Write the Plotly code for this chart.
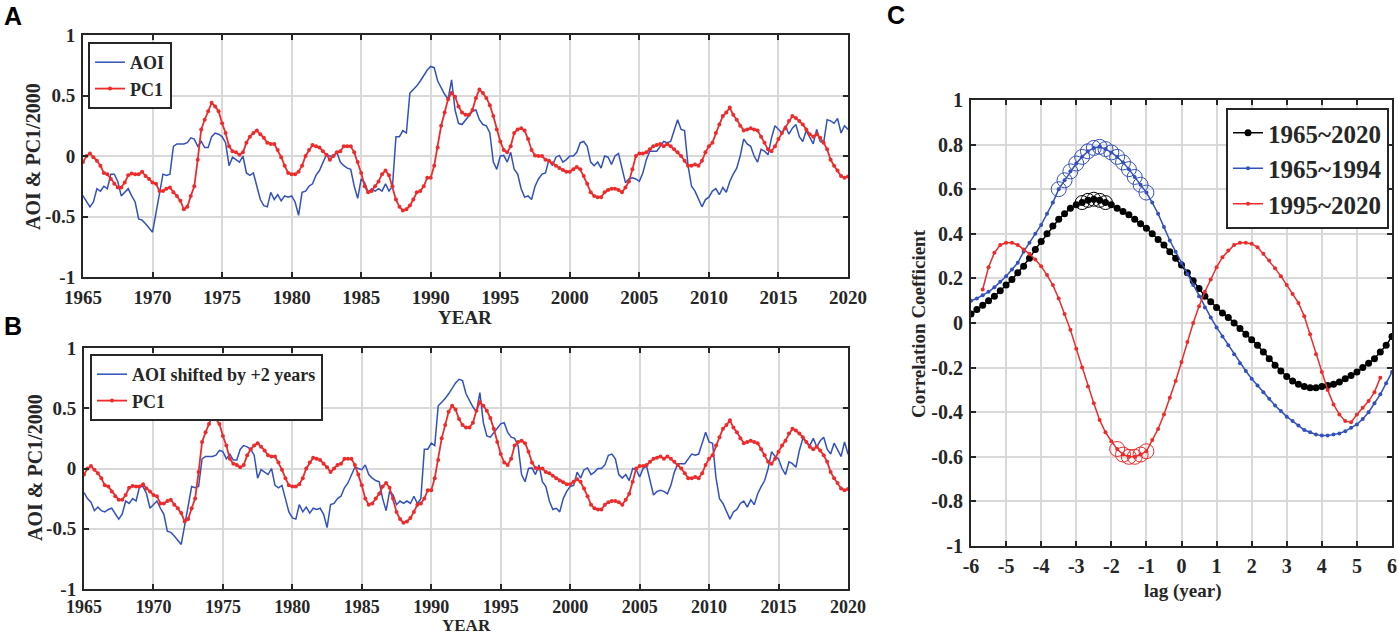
import numpy as np
import plotly.graph_objects as go

W, H = 1398, 634

# ---------------- panels A / B : quarterly series ----------------
AOI_START = 1963.0   # AOI read from 1963 so the +2 yr shift fills panel B
aoi = [
    -0.20, -0.25, -0.28, -0.35,  # 1963
    -0.32, -0.35, -0.36, -0.34,  # 1964
    -0.33, -0.38, -0.42, -0.38,  # 1965
    -0.27, -0.29, -0.25, -0.27,
    -0.15, -0.15, -0.21, -0.33,
    -0.30, -0.27, -0.33, -0.38,
    -0.52, -0.53, -0.56, -0.60,
    -0.63, -0.47, -0.30, -0.15,  # 1970
    -0.16, -0.15, 0.08, 0.10,
    0.10, 0.10, 0.11, 0.15,
    0.14, 0.08, 0.12, 0.07,
    0.07, 0.16, 0.19, 0.18,
    0.16, 0.11, -0.08, -0.01,  # 1975
    -0.03, -0.05, 0.00, -0.14,
    -0.16, -0.14, -0.25, -0.36,
    -0.41, -0.42, -0.30, -0.36,
    -0.32, -0.37, -0.33, -0.34,
    -0.33, -0.38, -0.49, -0.30,  # 1980
    -0.29, -0.25, -0.23, -0.16,
    -0.12, -0.05, 0.01, 0.00,
    -0.01, 0.03, -0.05, -0.08,
    -0.10, -0.11, -0.25, -0.35,
    -0.19, -0.22, -0.30, -0.27,  # 1985
    -0.29, -0.27, -0.29, -0.23,
    -0.29, -0.25, 0.16, 0.16,
    0.21, 0.19, 0.52, 0.55,
    0.58, 0.62, 0.67, 0.71,
    0.74, 0.73, 0.62, 0.56,  # 1990
    0.51, 0.47, 0.63, 0.38,
    0.27, 0.26, 0.30, 0.34,
    0.37, 0.38, 0.30, 0.26,
    0.25, 0.19, -0.05, -0.11,
    0.00, 0.005, -0.05, 0.03,  # 1995
    -0.11, -0.15, -0.27, -0.34,
    -0.33, -0.36, -0.25, -0.19,
    -0.15, -0.14, -0.03, -0.08,
    -0.01, 0.005, -0.05, -0.03,
    0.00, 0.00, 0.03, 0.11,  # 2000
    0.12, 0.08, -0.05, -0.08,
    -0.05, -0.10, 0.00, -0.01,
    -0.07, 0.00, 0.02, -0.10,
    -0.22, -0.19, -0.18, -0.19,
    -0.21, -0.14, -0.03, 0.04,  # 2005
    0.04, 0.04, 0.08, 0.12,
    0.11, 0.12, 0.21, 0.30,
    0.22, 0.21, -0.08, -0.25,
    -0.29, -0.36, -0.42, -0.36,
    -0.34, -0.29, -0.27, -0.32,  # 2010
    -0.26, -0.30, -0.21, -0.15,
    -0.10, 0.00, 0.14, 0.10,
    0.08, 0.00, -0.05, 0.055,
    0.04, 0.01, 0.15, 0.25,
    0.22, 0.19, 0.25, 0.18,  # 2015
    0.23, 0.26, 0.16, 0.12,
    0.21, 0.16, 0.10, 0.22,
    0.12, 0.11, 0.30, 0.29,
    0.27, 0.31, 0.19, 0.25,
    0.22,  # 2020
]

PC1_START = 1965.0
pc1 = [
    -0.05, 0.00, 0.02, -0.01,  # 1965
    -0.04, -0.08, -0.14, -0.15,
    -0.19, -0.23, -0.26, -0.26,
    -0.22, -0.16, -0.145, -0.15,
    -0.15, -0.13, -0.165, -0.19,
    -0.22, -0.23, -0.29, -0.29,  # 1970
    -0.27, -0.26, -0.30, -0.33,
    -0.37, -0.44, -0.42, -0.33,
    -0.25, -0.03, 0.22, 0.30,
    0.37, 0.44, 0.41, 0.37,
    0.27, 0.19, 0.08, 0.04,  # 1975
    0.03, 0.01, 0.03, 0.11,
    0.16, 0.19, 0.21, 0.18,
    0.15, 0.11, 0.10, 0.10,
    0.05, -0.01, -0.08, -0.14,
    -0.15, -0.15, -0.13, -0.08,  # 1980
    0.00, 0.05, 0.09, 0.08,
    0.07, 0.04, 0.01, -0.03,
    0.00, 0.03, 0.04, 0.08,
    0.08, 0.08, 0.03, -0.05,
    -0.14, -0.25, -0.30, -0.29,  # 1985
    -0.25, -0.21, -0.15, -0.12,
    -0.16, -0.25, -0.36, -0.42,
    -0.45, -0.44, -0.41, -0.36,
    -0.30, -0.29, -0.25, -0.18,
    -0.18, -0.08, 0.07, 0.25,  # 1990
    0.36, 0.47, 0.52, 0.49,
    0.41, 0.36, 0.34, 0.34,
    0.38, 0.48, 0.55, 0.52,
    0.48, 0.42, 0.33, 0.22,
    0.12, 0.05, 0.03, 0.08,  # 1995
    0.19, 0.22, 0.23, 0.21,
    0.14, 0.05, 0.005, 0.00,
    0.00, -0.03, -0.04, -0.06,
    -0.08, -0.10, -0.115, -0.13,
    -0.13, -0.11, -0.09, -0.11,  # 2000
    -0.165, -0.23, -0.30, -0.33,
    -0.34, -0.34, -0.30, -0.28,
    -0.27, -0.27, -0.28, -0.30,
    -0.26, -0.21, -0.11, 0.00,
    0.02, 0.02, 0.03, 0.055,  # 2005
    0.08, 0.09, 0.10, 0.08,
    0.10, 0.08, 0.055, 0.03,
    0.00, -0.04, -0.08, -0.08,
    -0.07, -0.08, -0.04, 0.03,
    0.08, 0.11, 0.19, 0.26,  # 2010
    0.33, 0.36, 0.40, 0.34,
    0.30, 0.25, 0.21, 0.22,
    0.23, 0.22, 0.21, 0.16,
    0.11, 0.055, 0.04, 0.08,
    0.14, 0.19, 0.23, 0.29,  # 2015
    0.33, 0.315, 0.29, 0.26,
    0.22, 0.18, 0.16, 0.18,
    0.15, 0.11, 0.055, -0.03,
    -0.08, -0.12, -0.165, -0.18,
    -0.17,  # 2020
]
AOI_SHIFT = 2

year_ticks = [1965, 1970, 1975, 1980, 1985, 1990, 1995, 2000, 2005, 2010, 2015, 2020]
ab_yticks = [1, 0.5, 0, -0.5, -1]
ab_ytext = ["1", "0.5", "0", "-0.5", "-1"]

# ---------------- panel C : lag correlation, 2-month steps ----------------
LAG_STEP = 1 / 6
corr_all = [  # 1965~2020, lags -6 .. 6
    0.04, 0.06, 0.08, 0.10, 0.12, 0.145, 0.17, 0.195, 0.225, 0.255, 0.29, 0.33,
    0.365, 0.40, 0.435, 0.465, 0.49, 0.515, 0.53, 0.54, 0.55, 0.555, 0.55, 0.54,
    0.53, 0.515, 0.50, 0.485, 0.465, 0.445, 0.425, 0.40, 0.375, 0.35, 0.32, 0.29,
    0.26, 0.225, 0.19, 0.155, 0.12, 0.095, 0.07, 0.045, 0.025, 0.0, -0.025, -0.05,
    -0.075, -0.10, -0.13, -0.16, -0.19, -0.215, -0.24, -0.26, -0.275, -0.285, -0.29, -0.29,
    -0.285, -0.28, -0.275, -0.265, -0.25, -0.235, -0.22, -0.20, -0.18, -0.16, -0.13, -0.10,
    -0.06,
]
corr_early = [  # 1965~1994, lags -6 .. 6
    0.10, 0.11, 0.125, 0.14, 0.16, 0.185, 0.21, 0.24, 0.27, 0.32, 0.36, 0.40,
    0.44, 0.49, 0.54, 0.60, 0.64, 0.68, 0.715, 0.745, 0.77, 0.785, 0.79, 0.78,
    0.765, 0.745, 0.72, 0.69, 0.655, 0.62, 0.585, 0.54, 0.49, 0.43, 0.37, 0.32,
    0.27, 0.22, 0.17, 0.12, 0.07, 0.025, -0.02, -0.06, -0.10, -0.14, -0.18, -0.215,
    -0.25, -0.28, -0.31, -0.34, -0.37, -0.395, -0.42, -0.44, -0.46, -0.48, -0.49, -0.50,
    -0.505, -0.505, -0.50, -0.495, -0.485, -0.47, -0.455, -0.43, -0.40, -0.36, -0.32, -0.27,
    -0.22,
]
corr_late = [  # 1995~2020, lags -5.67 .. 5.67
    0.15, 0.25, 0.315, 0.35, 0.36, 0.36, 0.35, 0.33, 0.31, 0.285, 0.255, 0.215,
    0.17, 0.11, 0.04, -0.03, -0.115, -0.20, -0.285, -0.36, -0.435, -0.49, -0.53, -0.565,
    -0.59, -0.60, -0.60, -0.59, -0.575, -0.525, -0.475, -0.41, -0.335, -0.26, -0.175, -0.085,
    0.0, 0.075, 0.14, 0.195, 0.25, 0.295, 0.325, 0.35, 0.36, 0.36, 0.355, 0.34,
    0.31, 0.28, 0.245, 0.21, 0.17, 0.13, 0.09, 0.03, -0.05, -0.14, -0.22, -0.30,
    -0.365, -0.41, -0.44, -0.445, -0.41, -0.38, -0.35, -0.31, -0.245,
]
LATE_OFFSET = 2          # first lag index of the 1995~2020 series
sig_all = (19, 24)       # index ranges of significant lags
sig_early = (15, 31)
sig_late = (25, 31)

lag_ticks = [-6, -5, -4, -3, -2, -1, 0, 1, 2, 3, 4, 5, 6]
lag_text = ["-6", "-5", "-4", "-3", "-2", "-1", "0", "1", "2", "3", "4", "5", "6"]
corr_ticks = [1, 0.8, 0.6, 0.4, 0.2, 0, -0.2, -0.4, -0.6, -0.8, -1]
corr_text = ["1", "0.8", "0.6", "0.4", "0.2", "0", "-0.2", "-0.4", "-0.6", "-0.8", "-1"]

# ---------------- styling ----------------
BLUE = "#3351bd"
RED = "#ee2b2b"
BLACK = "#000000"
AX = "#262626"
GRID = "#d9d9d9"
SERIF = "Liberation Serif"


def serif(size):
    return dict(family=SERIF, size=size, color=AX, weight="bold")


def xdom(left, right):
    return [left / W, right / W]


def ydom(top, bottom):
    return [1 - bottom / H, 1 - top / H]


def axis_style(**kwargs):
    base = dict(
        showline=True, linewidth=2, linecolor=AX, mirror="ticks",
        ticks="inside", ticklen=5, tickwidth=1.5, tickcolor=AX,
        showgrid=True, gridcolor=GRID, gridwidth=1.5, zeroline=False,
        tickfont=serif(19), fixedrange=True, automargin=False,
        ticklabeloverflow="allow",
    )
    base.update(kwargs)
    return base


aoi_years = AOI_START + 0.25 * np.arange(len(aoi))
pc1_years = PC1_START + 0.25 * np.arange(len(pc1))
lags = -6 + LAG_STEP * np.arange(len(corr_all))
lags_late = lags[LATE_OFFSET:LATE_OFFSET + len(corr_late)]

fig = go.Figure()

# panel A
fig.add_trace(go.Scatter(x=aoi_years, y=aoi, mode="lines", name="AOI",
                         line=dict(color=BLUE, width=1.5), xaxis="x", yaxis="y", legend="legend"))
fig.add_trace(go.Scatter(x=pc1_years, y=pc1, mode="lines+markers", name="PC1",
                         line=dict(color=RED, width=1.8), marker=dict(color=RED, size=4),
                         xaxis="x", yaxis="y", legend="legend"))

# panel B
fig.add_trace(go.Scatter(x=aoi_years + AOI_SHIFT, y=aoi, mode="lines", name="AOI shifted by +2 years",
                         line=dict(color=BLUE, width=1.5), xaxis="x2", yaxis="y2", legend="legend2"))
fig.add_trace(go.Scatter(x=pc1_years, y=pc1, mode="lines+markers", name="PC1",
                         line=dict(color=RED, width=1.8), marker=dict(color=RED, size=4),
                         xaxis="x2", yaxis="y2", legend="legend2"))

# panel C
series_c = [
    ("1965~2020", lags, corr_all, BLACK, 7, sig_all, 14),
    ("1965~1994", lags, corr_early, BLUE, 4, sig_early, 15),
    ("1995~2020", lags_late, corr_late, RED, 4, sig_late, 15),
]
for name, xs, ys, color, msize, _, _ in series_c:
    fig.add_trace(go.Scatter(x=xs, y=ys, mode="lines+markers", name=name,
                             line=dict(color=color, width=1.5), marker=dict(color=color, size=msize),
                             xaxis="x3", yaxis="y3", legend="legend3"))
for name, xs, ys, color, _, (i0, i1), csize in series_c:
    if xs is lags_late:
        i0, i1 = i0 - LATE_OFFSET, i1 - LATE_OFFSET
    fig.add_trace(go.Scatter(x=xs[i0:i1], y=ys[i0:i1], mode="markers", showlegend=False,
                             marker=dict(symbol="circle-open", size=csize, color=color, line=dict(width=1)),
                             xaxis="x3", yaxis="y3"))

legend_box = dict(bgcolor="white", bordercolor=AX, borderwidth=2,
                  xanchor="left", yanchor="top", tracegroupgap=0)

fig.update_layout(
    width=W, height=H,
    margin=dict(l=0, r=0, t=0, b=0, autoexpand=False),
    paper_bgcolor="white", plot_bgcolor="white",
    xaxis=axis_style(domain=xdom(83, 848), range=[1965, 2020], tickvals=year_ticks, anchor="y",
                     ticklabelstandoff=2),
    yaxis=axis_style(domain=ydom(35, 277), range=[-1, 1], tickvals=ab_yticks, ticktext=ab_ytext, anchor="x",
                     ticklabelstandoff=2),
    xaxis2=axis_style(domain=xdom(84, 848), range=[1965, 2020], tickvals=year_ticks, anchor="y2",
                      tickfont=serif(18)),
    yaxis2=axis_style(domain=ydom(348, 589), range=[-1, 1], tickvals=ab_yticks, ticktext=ab_ytext, anchor="x2",
                      ticklabelstandoff=2),
    xaxis3=axis_style(domain=xdom(971, 1392), range=[-6, 6], tickvals=lag_ticks, ticktext=lag_text,
                      anchor="y3", tickfont=serif(20), ticklabelstandoff=1),
    yaxis3=axis_style(domain=ydom(100, 546), range=[-1, 1], tickvals=corr_ticks, ticktext=corr_text,
                      anchor="x3", tickfont=serif(20), ticklabelstandoff=2),
    legend=dict(x=88 / W, y=1 - 42 / H, font=serif(18), **legend_box),
    legend2=dict(x=90 / W, y=1 - 354 / H, font=serif(18), **legend_box),
    legend3=dict(x=1226 / W, y=1 - 108 / H, font=serif(25), **legend_box),
)

labels = [
    ("A", 2, 16, 0, dict(family="Liberation Sans", size=25, color="black", weight="bold"), "left"),
    ("B", 2, 326, 0, dict(family="Liberation Sans", size=25, color="black", weight="bold"), "left"),
    ("C", 885, 15, 0, dict(family="Liberation Sans", size=25, color="black", weight="bold"), "left"),
    ("YEAR", 465, 317, 0, serif(19), "center"),
    ("YEAR", 466, 625, 0, serif(17), "center"),
    ("AOI & PC1/2000", 33, 157, -90, serif(20), "center"),
    ("AOI & PC1/2000", 35, 468, -90, serif(20), "center"),
    ("Correlation Coefficient", 918, 323, -90, serif(19), "center"),
    ("lag (year)", 1183, 591, 0, serif(19), "center"),
]
for text, px, py, angle, font, anchor in labels:
    fig.add_annotation(text=text, x=px / W, y=1 - py / H, xref="paper", yref="paper",
                       showarrow=False, textangle=angle, font=font,
                       xanchor=anchor, yanchor="middle")

# the page's default body margin would shift the whole figure by 8 px
fig.write_html("out.html", config={"displayModeBar": False},
               post_script="document.body.style.margin = '0';")
